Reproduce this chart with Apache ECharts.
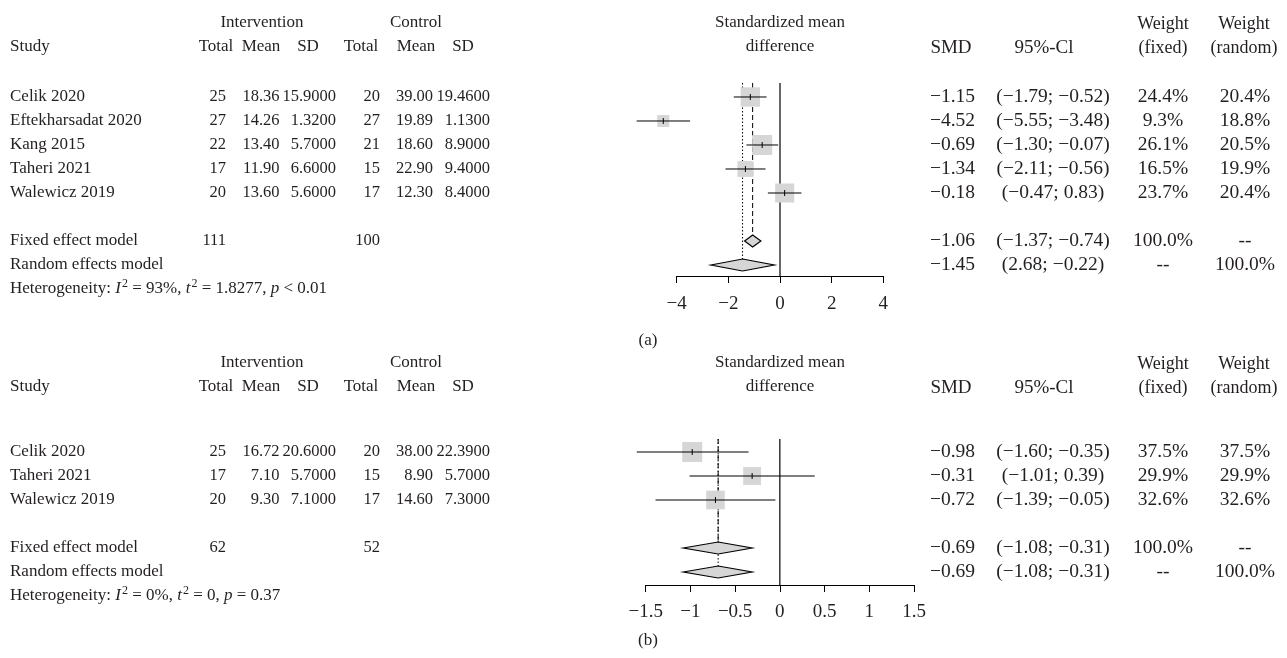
<!DOCTYPE html>
<html>
<head>
<meta charset="utf-8">
<script src="https://cdn.jsdelivr.net/npm/echarts@6/dist/echarts.min.js"></script>
<style>
  html, body { margin: 0; padding: 0; background: #fff; }
  #main { width: 1287px; height: 658px; }
</style>
</head>
<body>
<div id="main"></div>
<script>
// ---- panel (a) ----
const studiesA = ['Celik 2020', 'Eftekharsadat 2020', 'Kang 2015', 'Taheri 2021', 'Walewicz 2019'];
const intTotalA = [25, 27, 22, 17, 20];
const intMeanA = [18.36, 14.26, 13.40, 11.90, 13.60];
const intSdA = [15.9, 1.32, 5.7, 6.6, 5.6];
const ctlTotalA = [20, 27, 21, 15, 17];
const ctlMeanA = [39.00, 19.89, 18.60, 22.90, 12.30];
const ctlSdA = [19.46, 1.13, 8.9, 9.4, 8.4];
const smdA = [-1.15, -4.52, -0.69, -1.34, 0.18];          // plotted estimate
const loA = [-1.79, -5.55, -1.30, -2.11, -0.47];
const hiA = [-0.52, -3.48, -0.07, -0.56, 0.83];
const smdTextA = ['−1.15', '−4.52', '−0.69', '−1.34', '−0.18'];
const ciTextA = ['(−1.79; −0.52)', '(−5.55; −3.48)', '(−1.30; −0.07)', '(−2.11; −0.56)', '(−0.47; 0.83)'];
const wFixedA = [24.4, 9.3, 26.1, 16.5, 23.7];
const wRandomA = [20.4, 18.8, 20.5, 19.9, 20.4];
// fixed, random: estimate, lower, upper
const pooledA = [[-1.06, -1.37, -0.74], [-1.45, -2.68, -0.22]];
const pooledTextA = [['−1.06', '(−1.37; −0.74)', '100.0%', '--'], ['−1.45', '(2.68; −0.22)', '--', '100.0%']];
const totalsA = [111, 100];
const hetA = ['93%', '1.8277', '< 0.01'];
const ticksA = [-4, -2, 0, 2, 4];

// ---- panel (b) ----
const studiesB = ['Celik 2020', 'Taheri 2021', 'Walewicz 2019'];
const intTotalB = [25, 17, 20];
const intMeanB = [16.72, 7.10, 9.30];
const intSdB = [20.6, 5.7, 7.1];
const ctlTotalB = [20, 15, 17];
const ctlMeanB = [38.00, 8.90, 14.60];
const ctlSdB = [22.39, 5.7, 7.3];
const smdB = [-0.98, -0.31, -0.72];
const loB = [-1.60, -1.01, -1.39];
const hiB = [-0.35, 0.39, -0.05];
const smdTextB = ['−0.98', '−0.31', '−0.72'];
const ciTextB = ['(−1.60; −0.35)', '(−1.01; 0.39)', '(−1.39; −0.05)'];
const wFixedB = [37.5, 29.9, 32.6];
const wRandomB = [37.5, 29.9, 32.6];
const pooledB = [[-0.69, -1.08, -0.31], [-0.69, -1.08, -0.31]];
const pooledTextB = [['−0.69', '(−1.08; −0.31)', '100.0%', '--'], ['−0.69', '(−1.08; −0.31)', '--', '100.0%']];
const totalsB = [62, 52];
const hetB = ['0%', '0', '= 0.37'];
const ticksB = [-1.5, -1, -0.5, 0, 0.5, 1, 1.5];

const FONT = '"Liberation Serif", "DejaVu Serif", serif';
const FS = 17;        // words
const FN = 16.5;      // left table numbers
const FR = 19.5;      // right table numbers
const INK = '#231f20';
const GRAY = '#d6d6d6';

function txt(x, y, s, align, size) {
  align = align || 'left';
  return {
    type: 'text', x: x, y: y, silent: true,
    style: { text: s, font: (size || FS) + 'px ' + FONT, fill: INK,
      align: align, textAlign: align, verticalAlign: 'middle', textVerticalAlign: 'middle' }
  };
}
function num(v, d) {
  return (v < 0 ? '−' : '') + Math.abs(v).toFixed(d);
}
function pct(v) { return v.toFixed(1) + '%'; }

function tableText(d, L) {
  const g = [];
  const y1 = L.head, y2 = L.head + 24;
  g.push(txt(262, y1, 'Intervention', 'center'));
  g.push(txt(416, y1, 'Control', 'center'));
  g.push(txt(780, y1, 'Standardized mean', 'center'));
  g.push(txt(1163, y1 + 1, 'Weight', 'center', 18));
  g.push(txt(1244, y1 + 1, 'Weight', 'center', 18));
  g.push(txt(10, y2, 'Study'));
  [['Total', 216], ['Mean', 261], ['SD', 308], ['Total', 361], ['Mean', 416], ['SD', 463]]
    .forEach(h => g.push(txt(h[1], y2, h[0], 'center')));
  g.push(txt(780, y2, 'difference', 'center'));
  g.push(txt(951, y2 + 1, 'SMD', 'center', 19));
  g.push(txt(1044, y2 + 1, '95%-Cl', 'center', 19));
  g.push(txt(1163, y2 + 1, '(fixed)', 'center', 18));
  g.push(txt(1244, y2 + 1, '(random)', 'center', 18));

  d.studies.forEach((s, i) => {
    const y = L.row0 + 24 * i;
    g.push(txt(10, y, s));
    g.push(txt(226, y, String(d.intTotal[i]), 'right', FN));
    g.push(txt(279.5, y, num(d.intMean[i], 2), 'right', FN));
    g.push(txt(336, y, num(d.intSd[i], 4), 'right', FN));
    g.push(txt(380, y, String(d.ctlTotal[i]), 'right', FN));
    g.push(txt(433, y, num(d.ctlMean[i], 2), 'right', FN));
    g.push(txt(490, y, num(d.ctlSd[i], 4), 'right', FN));
    g.push(txt(975, y, d.smdText[i], 'right', FR));
    g.push(txt(1053, y, d.ciText[i], 'center', FR));
    g.push(txt(1163, y, pct(d.wFixed[i]), 'center', FR));
    g.push(txt(1245, y, pct(d.wRandom[i]), 'center', FR));
  });
  const yF = L.row0 + 24 * (d.studies.length + 1);
  const yR = yF + 24;
  g.push(txt(10, yF, 'Fixed effect model'));
  g.push(txt(226, yF, String(d.totals[0]), 'right', FN));
  g.push(txt(380, yF, String(d.totals[1]), 'right', FN));
  g.push(txt(10, yR, 'Random effects model'));
  [yF, yR].forEach((y, k) => {
    const t = d.pooledText[k];
    g.push(txt(975, y, t[0], 'right', FR));
    g.push(txt(1053, y, t[1], 'center', FR));
    g.push(txt(1163, y, t[2], 'center', FR));
    g.push(txt(1245, y, t[3], 'center', FR));
  });
  // heterogeneity line with italic symbols and superscripts
  const base = { fontFamily: FONT, fontSize: FS, fill: INK };
  g.push({
    type: 'text', x: 10, y: yR + 24, silent: true,
    style: {
      text: '{n|Heterogeneity: }{i|I}{s|2}{n| = ' + d.het[0] + ', }{i|t}{s|2}{n| = ' + d.het[1] + ', }{i|p}{n| ' + d.het[2] + '}',
      font: FS + 'px ' + FONT, fill: INK,
      align: 'left', textAlign: 'left', verticalAlign: 'middle', textVerticalAlign: 'middle',
      rich: {
        n: Object.assign({}, base),
        i: Object.assign({}, base, { fontStyle: 'italic' }),
        s: Object.assign({}, base, { fontSize: 12, padding: [0, 0, 10, 1] })
      }
    }
  });
  g.push(txt(648, L.label, L.tag, 'center'));
  return g;
}

function studyData(d) {
  const maxW = Math.max.apply(null, d.wFixed);
  return d.smd.map((v, i) => [v, d.lo[i], d.hi[i], i + 1, 20 * Math.sqrt(d.wFixed[i] / maxW)]);
}
function pooledData(d) {
  const r = d.studies.length + 2;
  return d.pooled.map((p, k) => [p[0], p[1], p[2], r + k]);
}
function refData(d) {
  const r = d.studies.length + 2;
  return [[0, 0, 0], [d.pooled[0][0], r, 1], [d.pooled[1][0], r + 1, 2]];
}

function renderStudy(params, api) {
  const row = api.value(3);
  const c = api.coord([api.value(0), row]);
  const a = api.coord([api.value(1), row]);
  const b = api.coord([api.value(2), row]);
  const s = api.value(4);
  return {
    type: 'group', children: [
      { type: 'rect', shape: { x: c[0] - s / 2, y: c[1] - s / 2, width: s, height: s }, style: { fill: GRAY } },
      { type: 'line', shape: { x1: a[0], y1: c[1], x2: b[0], y2: c[1] }, style: { stroke: '#000', lineWidth: 1 } },
      { type: 'line', shape: { x1: c[0], y1: c[1] - 3, x2: c[0], y2: c[1] + 3 }, style: { stroke: '#000', lineWidth: 1 } }
    ]
  };
}
function renderDiamond(params, api) {
  const row = api.value(3);
  const c = api.coord([api.value(0), row]);
  const a = api.coord([api.value(1), row]);
  const b = api.coord([api.value(2), row]);
  return {
    type: 'polygon',
    shape: { points: [[a[0], c[1]], [c[0], c[1] - 6], [b[0], c[1]], [c[0], c[1] + 6]] },
    style: { fill: GRAY, stroke: '#000', lineWidth: 1.2 }
  };
}
function renderRef(params, api) {
  const cs = params.coordSys;
  const kind = api.value(2);
  const x = api.coord([api.value(0), 1])[0];
  const y2 = kind === 0 ? cs.y + cs.height : api.coord([0, api.value(1)])[1] - 6;
  return {
    type: 'line',
    shape: { x1: x, y1: cs.y, x2: x, y2: y2 },
    style: { stroke: '#000', lineWidth: kind === 0 ? 1.2 : 1, lineDash: kind === 1 ? [5, 3] : kind === 2 ? [1.5, 2] : null }
  };
}

function xAxisFor(idx, ticks, margin) {
  return {
    type: 'value', gridIndex: idx,
    min: ticks[0], max: ticks[ticks.length - 1], interval: ticks[1] - ticks[0],
    splitLine: { show: false },
    axisLine: { show: true, onZero: false, lineStyle: { color: '#000', width: 1 } },
    axisTick: { show: true, inside: false, length: 7, lineStyle: { color: '#000', width: 1 } },
    axisLabel: { color: INK, fontFamily: FONT, fontSize: 19, margin: margin,
      formatter: v => (v < 0 ? '−' : '') + Math.abs(v) }
  };
}

const dA = { studies: studiesA, intTotal: intTotalA, intMean: intMeanA, intSd: intSdA, ctlTotal: ctlTotalA,
  ctlMean: ctlMeanA, ctlSd: ctlSdA, smd: smdA, lo: loA, hi: hiA, smdText: smdTextA, ciText: ciTextA,
  wFixed: wFixedA, wRandom: wRandomA, pooled: pooledA, pooledText: pooledTextA, totals: totalsA, het: hetA };
const dB = { studies: studiesB, intTotal: intTotalB, intMean: intMeanB, intSd: intSdB, ctlTotal: ctlTotalB,
  ctlMean: ctlMeanB, ctlSd: ctlSdB, smd: smdB, lo: loB, hi: hiB, smdText: smdTextB, ciText: ciTextB,
  wFixed: wFixedB, wRandom: wRandomB, pooled: pooledB, pooledText: pooledTextB, totals: totalsB, het: hetB };

const chart = echarts.init(document.getElementById('main'), null, { renderer: 'canvas' });

const series = [];
[dA, dB].forEach((d, idx) => {
  series.push({ type: 'custom', xAxisIndex: idx, yAxisIndex: idx, z: 1, renderItem: renderRef,
    encode: { x: 0, y: 1 }, data: refData(d), silent: true });
  series.push({ type: 'custom', xAxisIndex: idx, yAxisIndex: idx, z: 2, renderItem: renderStudy,
    encode: { x: [0, 1, 2], y: 3 }, data: studyData(d), silent: true });
  series.push({ type: 'custom', xAxisIndex: idx, yAxisIndex: idx, z: 3, renderItem: renderDiamond,
    encode: { x: [0, 1, 2], y: 3 }, data: pooledData(d), silent: true });
});

chart.setOption({
  animation: false,
  backgroundColor: '#fff',
  grid: [
    { left: 676.7, top: 83, width: 206.6, height: 193 },
    { left: 645.7, top: 439, width: 268.3, height: 146 }
  ],
  xAxis: [xAxisFor(0, ticksA, 19), xAxisFor(1, ticksB, 18)],
  yAxis: [
    { type: 'value', gridIndex: 0, inverse: true, min: 0.4167, max: 8.4583, show: false },
    { type: 'value', gridIndex: 1, inverse: true, min: 0.4583, max: 6.5417, show: false }
  ],
  series: series,
  graphic: tableText(dA, { head: 23, row0: 97, label: 341, tag: '(a)' })
    .concat(tableText(dB, { head: 363, row0: 452, label: 641, tag: '(b)' }))
});

window.addEventListener('resize', () => chart.resize());
</script>
</body>
</html>
